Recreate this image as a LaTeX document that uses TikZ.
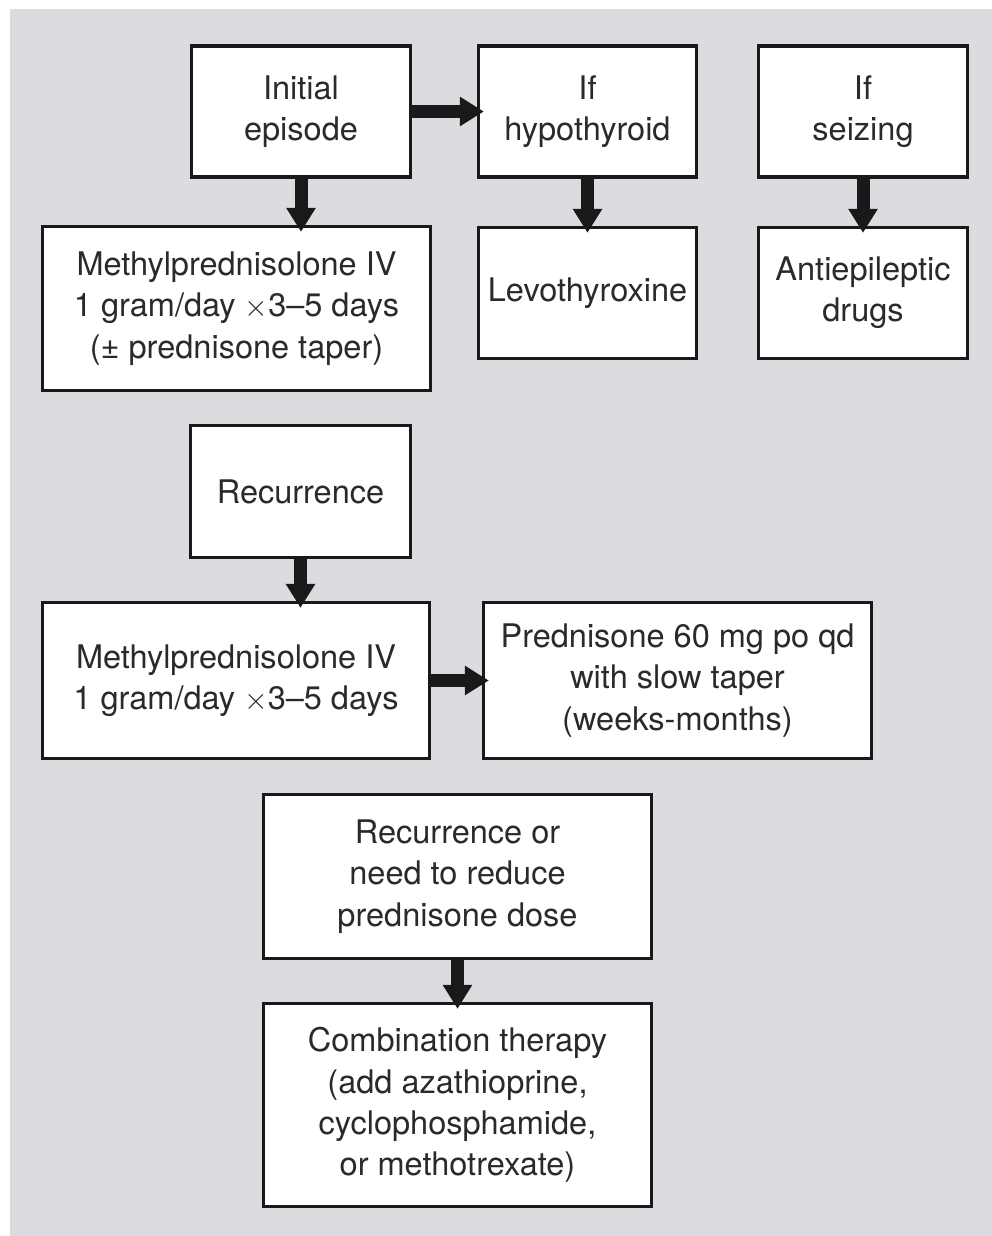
\documentclass[tikz,border=0pt]{standalone}
\usepackage{fontspec}
\setmainfont{TeX Gyre Heros}
\usetikzlibrary{arrows.meta, positioning}
\definecolor{panelgray}{RGB}{220,219,224}
\definecolor{inkgray}{RGB}{42,42,42}
\tikzset{
  stepbox/.style={rectangle, draw=black!90, line width=1.9pt, fill=white, align=center, text=inkgray, inner sep=2pt, font=\fontsize{18.5}{23.5}\selectfont},
  fatarrow/.style={-{Triangle[width=0.56cm,length=0.48cm]}, line width=0.26cm, draw=black!90, shorten >=-0.14cm}
}
\newcommand{\xtimes}{$\times$}

\begin{document}
\begin{tikzpicture}

% panel
\useasboundingbox (0,0) rectangle (19.84,-24.72);
\fill[panelgray] (0.2,-0.18) rectangle (19.84,-24.72);

% initial episode
\node[stepbox, minimum width=4.38cm, minimum height=2.62cm] (init) at (6.02,-2.23) {Initial\\episode};
\node[stepbox, minimum width=7.76cm, minimum height=3.28cm] (methA) at (4.73,-6.17) {Methylprednisolone IV\\1 gram/day \xtimes3--5 days\\(± prednisone taper)};
\node[stepbox, minimum width=4.36cm, minimum height=2.62cm] (hypo) at (11.75,-2.23) {If\\hypothyroid};
\node[stepbox, minimum width=4.36cm, minimum height=2.62cm] (levo) at (11.75,-5.86) {Levothyroxine};
\node[stepbox, minimum width=4.18cm, minimum height=2.62cm] (seize) at (17.26,-2.23) {If\\seizing};
\node[stepbox, minimum width=4.18cm, minimum height=2.62cm] (aed) at (17.26,-5.86) {Antiepileptic\\drugs};

% recurrence
\node[stepbox, minimum width=4.40cm, minimum height=2.64cm] (recur) at (6.01,-9.83) {Recurrence};
\node[stepbox, minimum width=7.74cm, minimum height=3.12cm] (methB) at (4.72,-13.61) {Methylprednisolone IV\\1 gram/day \xtimes3--5 days};
\node[stepbox, minimum width=7.76cm, minimum height=3.12cm] (pred) at (13.55,-13.61) {Prednisone 60 mg po qd\\with slow taper\\(weeks-months)};

% second recurrence
\node[stepbox, minimum width=7.76cm, minimum height=3.28cm] (recurB) at (9.15,-17.53) {Recurrence or\\need to reduce\\prednisone dose};
\node[stepbox, minimum width=7.76cm, minimum height=4.06cm] (combo) at (9.15,-22.10) {Combination therapy\\(add azathioprine,\\cyclophosphamide,\\or methotrexate)};

% arrows
\draw[fatarrow] (init.east) -- (init.east -| hypo.west);
\draw[fatarrow] (methB.east) -- (methB.east -| pred.west);
\foreach \a/\b in {init/methA, hypo/levo, seize/aed, recur/methB, recurB/combo}
  \draw[fatarrow] (\a.south) -- (\a.south |- \b.north);

\end{tikzpicture}
\end{document}
